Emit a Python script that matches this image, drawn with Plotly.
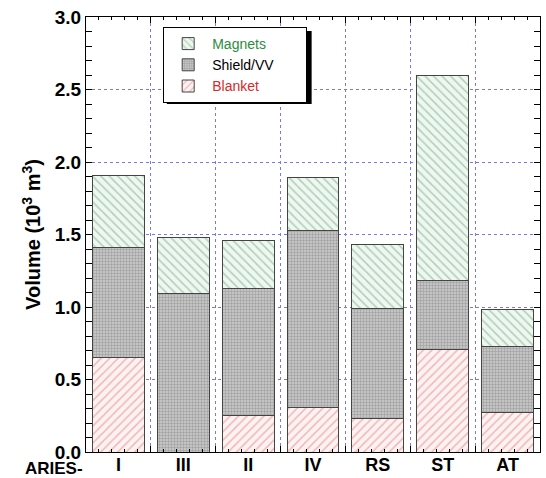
import plotly.graph_objects as go

categories = ["I", "III", "II", "IV", "RS", "ST", "AT"]
blanket = [0.65, 0.00, 0.25, 0.31, 0.23, 0.71, 0.27]
shield_vv = [0.76, 1.09, 0.88, 1.22, 0.76, 0.47, 0.46]
magnets = [0.50, 0.39, 0.33, 0.36, 0.44, 1.42, 0.25]

pos = list(range(len(categories)))
bounds = [p - 0.5 for p in pos] + [pos[-1] + 0.5]

FONT = "Liberation Sans, Arial, sans-serif"
PAD = "&nbsp;" * 7
fig = go.Figure()

fig.add_trace(go.Bar(
    x=pos, y=blanket, width=0.8,
    name="<span style='color:#d42a2a'>Blanket</span>",
    marker=dict(color="#fdf2f2", line=dict(color="#444", width=1),
                pattern=dict(shape="/", fgcolor="#e07a7a", bgcolor="#fdf2f2", size=6, solidity=0.25)),
))
fig.add_trace(go.Bar(
    x=pos, y=shield_vv, width=0.8,
    name="<span style='color:#000'>Shield/VV</span>" + PAD,
    marker=dict(color="#bdbdbd", line=dict(color="#444", width=1),
                pattern=dict(shape="+", fgcolor="#777", bgcolor="#c4c4c4", size=3, solidity=0.35)),
))
fig.add_trace(go.Bar(
    x=pos, y=magnets, width=0.8,
    name="<span style='color:#2e8b3e'>Magnets</span>",
    marker=dict(color="#eef7f0", line=dict(color="#444", width=1),
                pattern=dict(shape="\\", fgcolor="#6aa57a", bgcolor="#eef7f0", size=6, solidity=0.25)),
))
# invisible trace to carry category labels on xaxis2
fig.add_trace(go.Scatter(x=pos, y=[0]*len(pos), xaxis="x2", mode="markers",
                         marker=dict(opacity=0), showlegend=False, hoverinfo="skip"))

fig.update_layout(
    width=546, height=478,
    margin=dict(l=86, r=6, t=17, b=26),
    barmode="stack",
    plot_bgcolor="white", paper_bgcolor="white",
    font=dict(family=FONT, color="black"),
    showlegend=True,
    legend=dict(x=0.17, y=0.977, xanchor="left", yanchor="top",
                bgcolor="white", bordercolor="black", borderwidth=1,
                traceorder="reversed", font=dict(size=14, family=FONT),
                itemwidth=38, tracegroupgap=0),
    xaxis=dict(range=[-0.5, 6.5], tickvals=bounds, ticktext=[""]*len(bounds),
               ticks="inside", ticklen=6, tickcolor="black", automargin=False,
               showline=True, linecolor="black", linewidth=1, mirror="allticks",
               showgrid=True, gridcolor="#7777ee", griddash="dot", gridwidth=1,
               zeroline=False,
               minor=dict(dtick=0.2, tick0=-0.5, ticks="inside", ticklen=3, tickcolor="black", showgrid=False)),
    xaxis2=dict(range=[-0.5, 6.5], overlaying="x", side="bottom", tickvals=pos, ticktext=categories,
                showgrid=False, showline=False, zeroline=False, ticks="", automargin=False,
                tickfont=dict(size=18, family=FONT, weight="bold"), ticklabelstandoff=0),
    yaxis=dict(range=[0, 3.0], dtick=0.5, tickformat=".1f", automargin=False,
               ticks="inside", ticklen=6, tickcolor="black",
               showline=True, linecolor="black", linewidth=1, mirror="allticks",
               showgrid=True, gridcolor="#7777ee", griddash="dot", gridwidth=1,
               zeroline=False,
               tickfont=dict(size=19, family=FONT, weight="bold"),
               minor=dict(dtick=0.1, ticks="inside", ticklen=3, tickcolor="black", showgrid=False),
               title=dict(text="Volume (10<sup>3</sup> m<sup>3</sup>)",
                          font=dict(size=20, family=FONT, weight="bold"), standoff=8)),
    annotations=[dict(text="<b>ARIES-</b>", xref="paper", yref="paper", x=-0.003, y=-0.011,
                      xanchor="right", yanchor="top", showarrow=False,
                      font=dict(size=17, family=FONT))],
    shapes=[dict(type="rect", xref="paper", yref="paper", x0=0.178, x1=0.497, y0=0.8, y1=0.968,
                 fillcolor="black", line=dict(width=0), layer="above")],
)

fig.write_html("out.html", config={"displayModeBar": False},
               post_script="document.body.style.margin='0';document.body.style.overflow='hidden';")
